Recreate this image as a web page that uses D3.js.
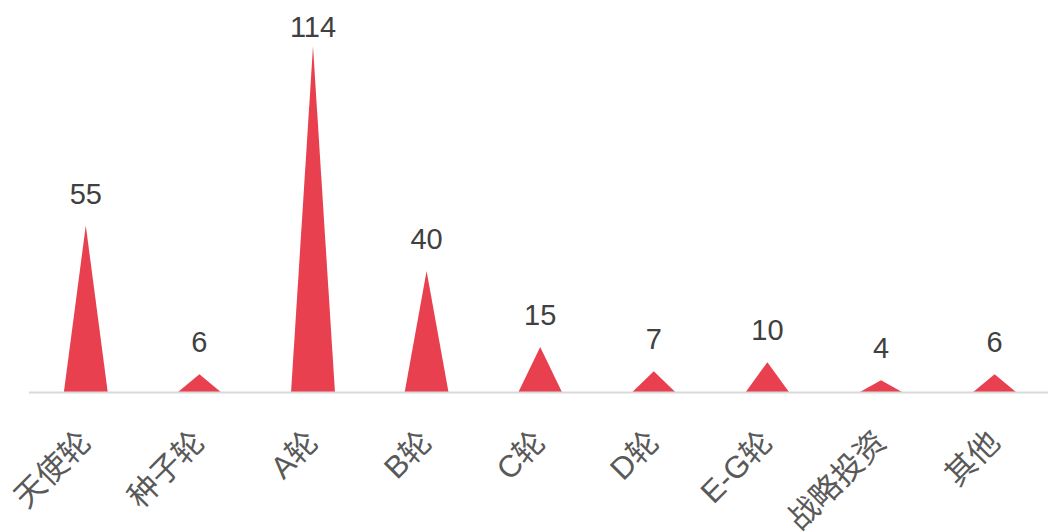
<!DOCTYPE html>
<html>
<head>
<meta charset="utf-8">
<script src="https://cdn.jsdelivr.net/npm/d3@7"></script>
<style>
  html, body { margin: 0; padding: 0; background: #ffffff; }
  svg { display: block; }
</style>
</head>
<body>
<div id="chart"></div>
<script>
// Funding rounds and deal counts
const categories = ["天使轮", "种子轮", "A轮", "B轮", "C轮", "D轮", "E-G轮", "战略投资", "其他"];
const values = [55, 6, 114, 40, 15, 7, 10, 4, 6];

const width = 1048, height = 531;
const baseY = 392.5;

const svg = d3.select("#chart").append("svg")
  .attr("width", width)
  .attr("height", height);

const x = d3.scaleBand()
  .domain(categories)
  .range([29, 1051.4])
  .paddingInner(0.613)
  .paddingOuter(0.3065);

const y = d3.scaleLinear()
  .domain([0, 120])
  .range([baseY, baseY - 120 * 3.036]);

const data = categories.map((c, i) => ({ cat: c, val: values[i] }));

// Spike (triangle) columns
svg.append("g").selectAll("path")
  .data(data)
  .join("path")
  .attr("fill", "#e8404f")
  .attr("d", d => {
    const x0 = x(d.cat), x1 = x0 + x.bandwidth(), xm = x0 + x.bandwidth() / 2;
    return `M${x0},${y(0)}L${xm},${y(d.val)}L${x1},${y(0)}Z`;
  });

// Category axis line
svg.append("line")
  .attr("x1", x.range()[0]).attr("x2", x.range()[1])
  .attr("y1", baseY).attr("y2", baseY)
  .attr("stroke", "#d9d9d9")
  .attr("stroke-width", 2);

// Value labels above each spike
svg.append("g").selectAll("text")
  .data(data)
  .join("text")
  .attr("x", d => x(d.cat) + x.bandwidth() / 2)
  .attr("y", d => Math.max(y(d.val) - 22, 37))
  .attr("text-anchor", "middle")
  .attr("font-family", "Liberation Sans, Arial, sans-serif")
  .attr("font-size", 29)
  .attr("fill", "#404040")
  .text(d => d.val);

// Rotated category labels
svg.append("g").selectAll("text")
  .data(categories)
  .join("text")
  .attr("transform", c => `translate(${x(c) + x.bandwidth() / 2 + 7},${444}) rotate(-45)`)
  .attr("text-anchor", "end")
  .attr("font-family", "Liberation Sans, Noto Sans CJK SC, sans-serif")
  .attr("font-size", 31)
  .attr("fill", "#595959")
  .text(c => c);
</script>
</body>
</html>
